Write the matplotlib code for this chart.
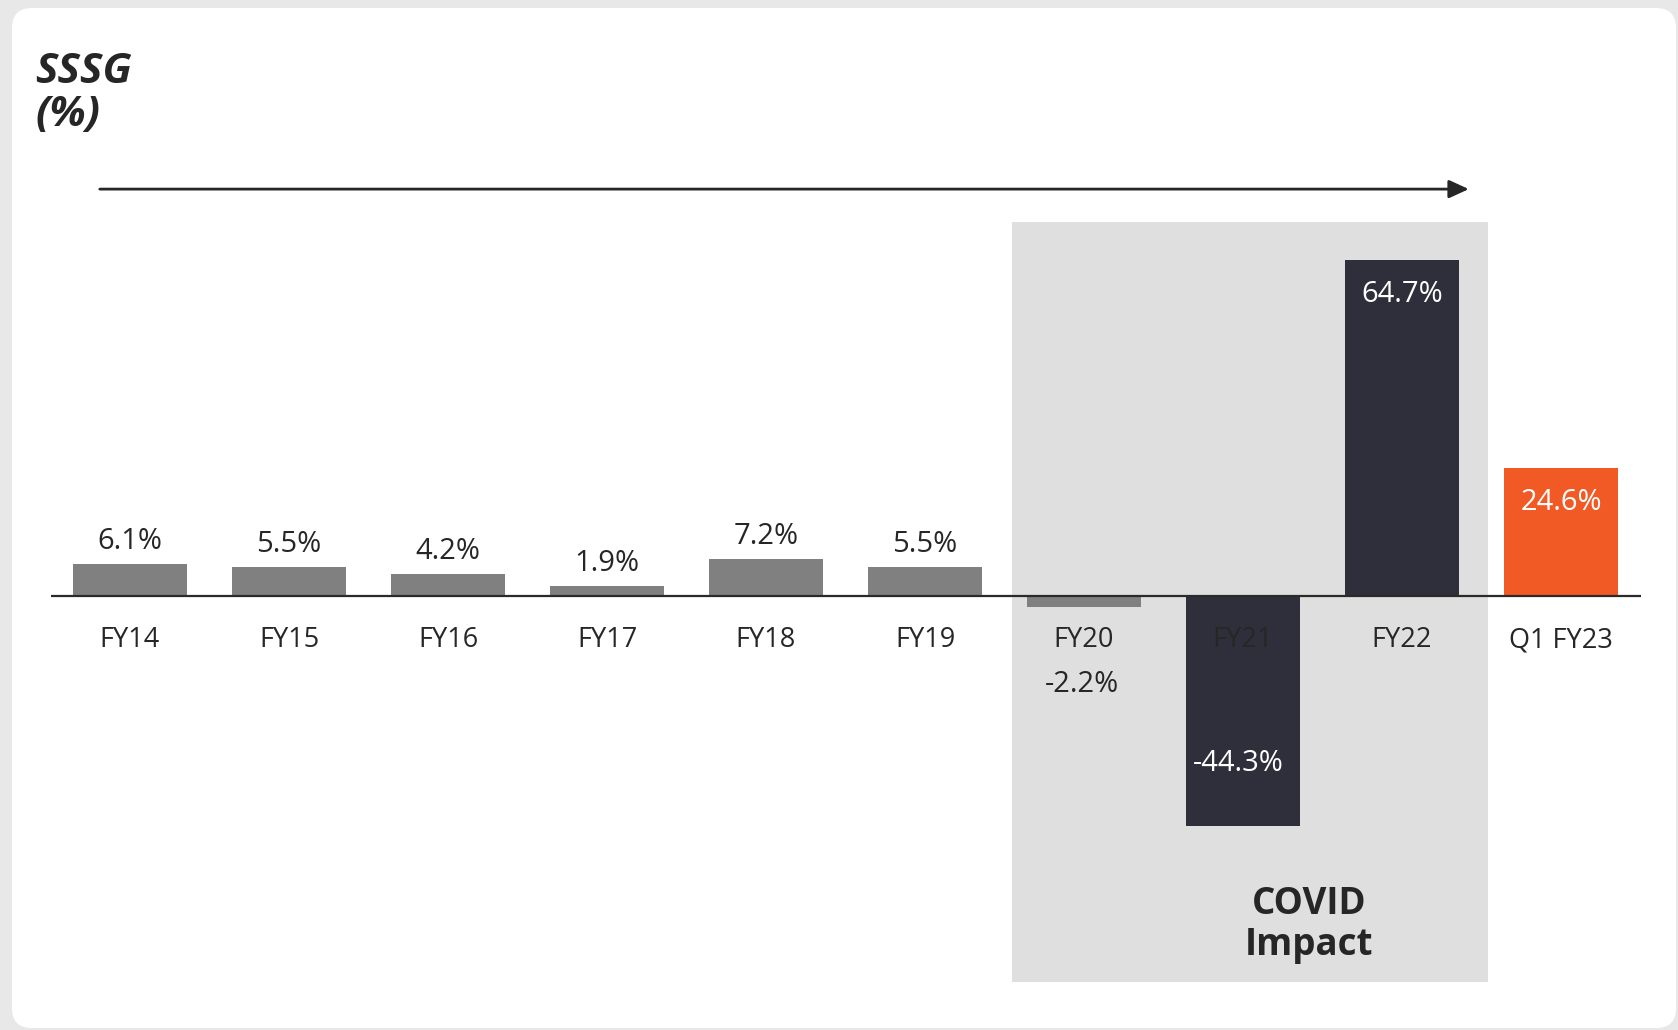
import matplotlib
matplotlib.use("Agg")
import matplotlib.pyplot as plt
from matplotlib.patches import FancyBboxPatch, Rectangle
from matplotlib.transforms import IdentityTransform

# ---- data ----
categories = ["FY14", "FY15", "FY16", "FY17", "FY18", "FY19", "FY20", "FY21", "FY22", "Q1 FY23"]
sssg = [6.1, 5.5, 4.2, 1.9, 7.2, 5.5, -2.2, -44.3, 64.7, 24.6]
value_labels = ["6.1%", "5.5%", "4.2%", "1.9%", "7.2%", "5.5%", "-2.2%", "-44.3%", "64.7%", "24.6%"]
bar_colors = ["#808080"] * 7 + ["#2f2f3b", "#2f2f3b", "#f15a25"]
title_text = "SSSG\n(%)"
covid_text = "COVID\nImpact"

W, H, DPI = 1678, 1030, 100
plt.rcParams["font.family"] = ["Open Sans", "DejaVu Sans"]
TXT = "#262626"

fig = plt.figure(figsize=(W / DPI, H / DPI), dpi=DPI, facecolor="#e8e8e8")

# white card
card = FancyBboxPatch((12, 2), 1664, 1020, boxstyle="round,pad=0,rounding_size=20",
                      transform=IdentityTransform(), facecolor="white", edgecolor="none", zorder=-5)
fig.patches.append(card)

# axes mapped to the full figure
x0_px, y0_px, sx, sy = 130.0, 596.0, 159.0, 5.19
ax = fig.add_axes([0, 0, 1, 1], zorder=1)
ax.set_xlim(-x0_px / sx, (W - x0_px) / sx)
ax.set_ylim((y0_px - H) / sy, y0_px / sy)
ax.axis("off")
ax.patch.set_alpha(0)

x = list(range(len(categories)))

# COVID shaded region
ax.add_patch(Rectangle((5.55, -74.4), 2.99, 72.06 + 74.4, facecolor="#dfdfdf",
                       edgecolor="none", zorder=1))

# bars
ax.bar(x, sssg, width=0.717, color=bar_colors, zorder=2)

# baseline
ax.plot([-0.5, 9.5], [0, 0], color="#2a2a2a", lw=1.6, zorder=3, solid_capstyle="butt")

# arrow
ax.annotate("", xy=(8.42, 78.4), xytext=(-0.19, 78.4),
            arrowprops=dict(arrowstyle="-|>,head_length=1.2,head_width=0.55",
                            lw=2.0, color="#262626", shrinkA=0, shrinkB=0), zorder=3)

# category labels
for xi, c in zip(x, categories):
    ax.annotate(c, (xi, 0), xytext=(0, -51), textcoords="offset pixels",
                ha="center", va="baseline", fontsize=19.5, color=TXT, zorder=4)

# value labels
VFS = 21
for xi, v, lab in zip(x, sssg, value_labels):
    if xi <= 5:
        ax.annotate(lab, (xi, v), xytext=(0, 15), textcoords="offset pixels",
                    ha="center", va="baseline", fontsize=VFS, color=TXT, zorder=4)
    elif xi == 6:
        ax.annotate(lab, (xi, 0), xytext=(-2, -96), textcoords="offset pixels",
                    ha="center", va="baseline", fontsize=VFS, color=TXT, zorder=4)
    elif v < 0:
        ax.annotate(lab, (xi, v), xytext=(-5, 55), textcoords="offset pixels",
                    ha="center", va="baseline", fontsize=VFS, color="white", zorder=4)
    else:
        ax.annotate(lab, (xi, v), xytext=(0, -42), textcoords="offset pixels",
                    ha="center", va="baseline", fontsize=VFS, color="white", zorder=4)

# title
fig.text(35 / W, 1 - 126 / H, title_text, ha="left", va="baseline", fontsize=30.5,
         fontweight="bold", fontstyle="italic", color=TXT, linespacing=1.08, zorder=5)

# COVID label
fig.text(1309 / W, 1 - 955 / H, covid_text, ha="center", va="baseline", fontsize=26.5,
         fontweight="bold", color=TXT, linespacing=1.1, multialignment="center", zorder=5)

fig.savefig("out.png", dpi=DPI, facecolor=fig.get_facecolor())
